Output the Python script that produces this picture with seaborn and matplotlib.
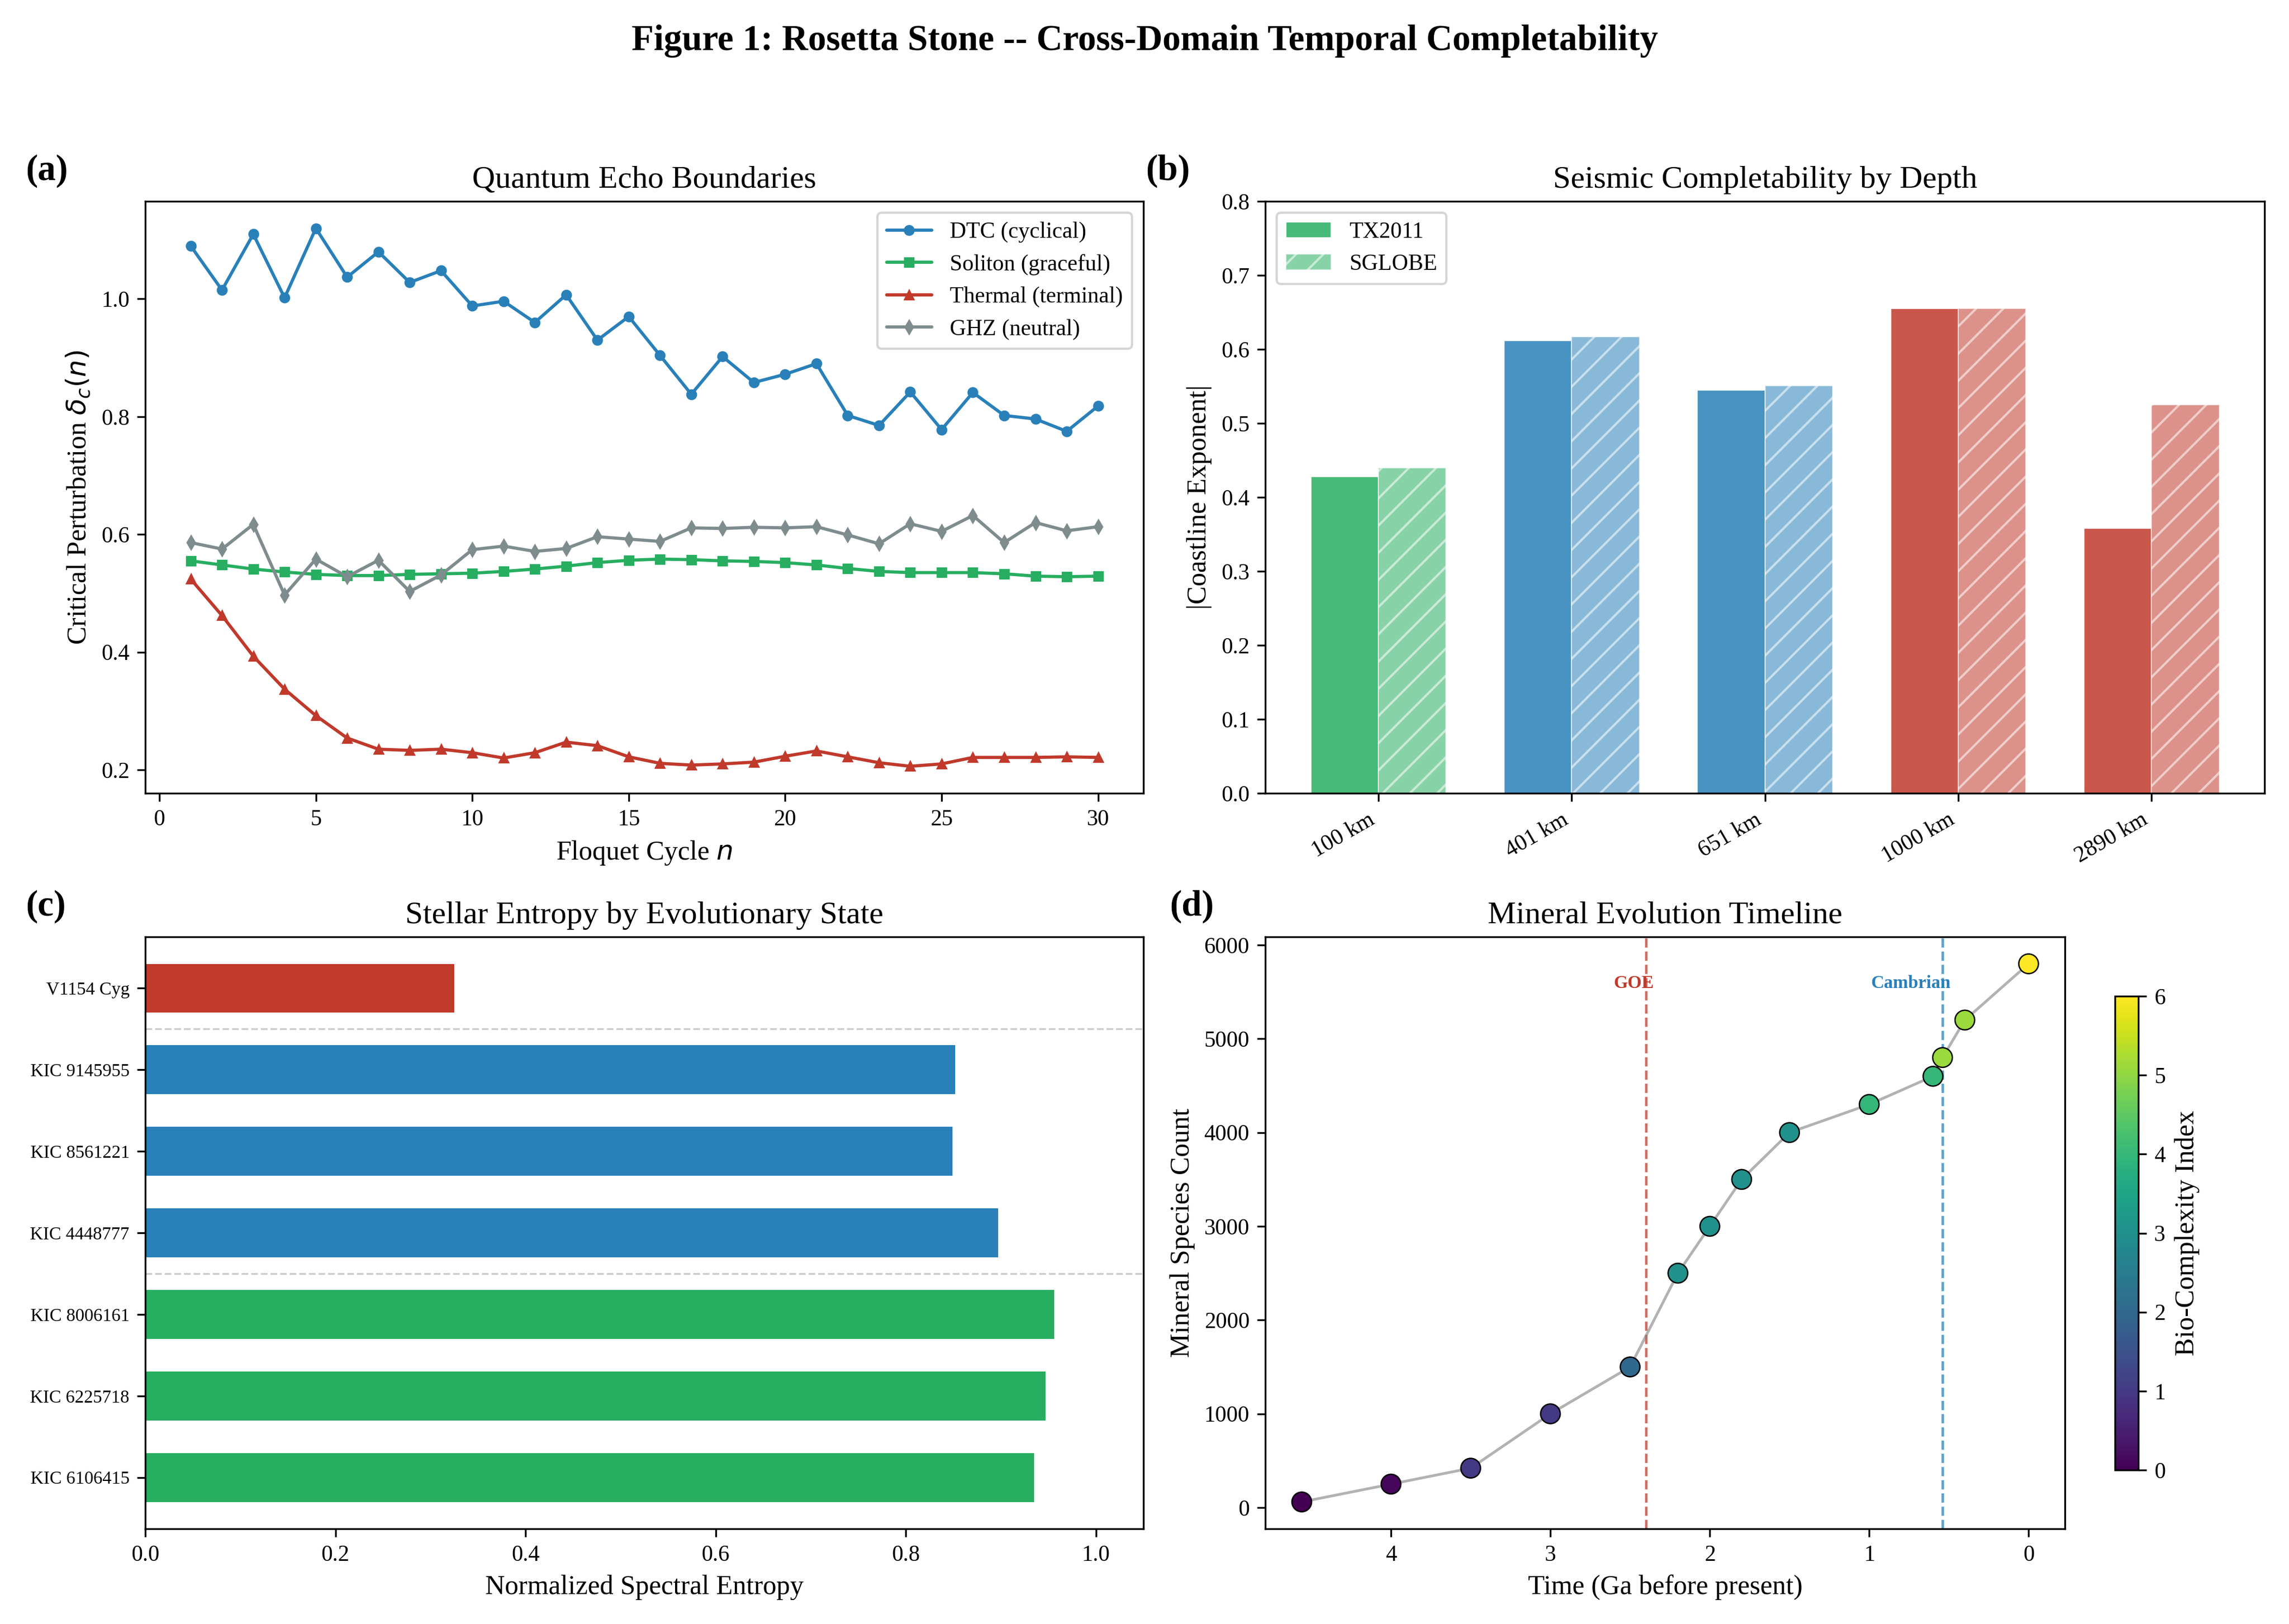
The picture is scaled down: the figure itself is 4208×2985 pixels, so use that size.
import numpy as np
import pandas as pd
import matplotlib
matplotlib.use("Agg")
import matplotlib.pyplot as plt
import seaborn as sns
from matplotlib.colors import Normalize
from matplotlib.cm import ScalarMappable

# ---------------- data ----------------
cycles = list(range(1, 31))
dtc = [1.090, 1.015, 1.110, 1.002, 1.120, 1.037, 1.080, 1.028, 1.048, 0.988,
       0.996, 0.960, 1.007, 0.930, 0.970, 0.904, 0.838, 0.902, 0.858, 0.872,
       0.890, 0.802, 0.785, 0.842, 0.778, 0.841, 0.802, 0.796, 0.775, 0.818]
soliton = [0.555, 0.548, 0.541, 0.536, 0.532, 0.530, 0.530, 0.532, 0.533, 0.534,
           0.537, 0.541, 0.546, 0.552, 0.556, 0.558, 0.557, 0.555, 0.554, 0.552,
           0.548, 0.542, 0.537, 0.535, 0.535, 0.535, 0.533, 0.529, 0.528, 0.529]
thermal = [0.524, 0.462, 0.393, 0.337, 0.292, 0.254, 0.235, 0.233, 0.235, 0.229,
           0.220, 0.229, 0.247, 0.241, 0.222, 0.211, 0.208, 0.210, 0.213, 0.223,
           0.232, 0.222, 0.212, 0.206, 0.210, 0.221, 0.221, 0.221, 0.222, 0.221]
ghz = [0.586, 0.575, 0.617, 0.497, 0.558, 0.528, 0.556, 0.503, 0.531, 0.574,
       0.580, 0.571, 0.576, 0.596, 0.592, 0.588, 0.611, 0.610, 0.612, 0.611,
       0.613, 0.599, 0.584, 0.618, 0.605, 0.632, 0.586, 0.620, 0.606, 0.613]
series_names = ["DTC (cyclical)", "Soliton (graceful)", "Thermal (terminal)", "GHZ (neutral)"]

depths = ["100 km", "401 km", "651 km", "1000 km", "2890 km"]
tx2011 = [0.428, 0.612, 0.545, 0.655, 0.358]
sglobe = [0.440, 0.617, 0.551, 0.655, 0.525]
depth_groups = ["green", "blue", "blue", "red", "red"]

stars = ["V1154 Cyg", "KIC 9145955", "KIC 8561221", "KIC 4448777",
         "KIC 8006161", "KIC 6225718", "KIC 6106415"]
entropy = [0.325, 0.852, 0.849, 0.897, 0.956, 0.947, 0.935]
star_groups = ["red", "blue", "blue", "blue", "green", "green", "green"]

time_ga = [4.56, 4.0, 3.5, 3.0, 2.5, 2.2, 2.0, 1.8, 1.5, 1.0, 0.6, 0.54, 0.4, 0.0]
mineral_count = [60, 250, 420, 1000, 1500, 2500, 3000, 3500, 4000, 4300, 4600, 4800, 5200, 5800]
bio_index = [0.0, 0.1, 1.0, 1.0, 2.0, 3.0, 3.0, 3.0, 3.0, 4.0, 4.0, 5.1, 5.1, 6.0]
events = ["GOE", "Cambrian"]
event_times = [2.4, 0.54]

# ---------------- style ----------------
sns.set_style("white")
plt.rcParams["font.family"] = ["Liberation Serif", "DejaVu Serif"]
plt.rcParams["mathtext.fontset"] = "dejavusans"
plt.rcParams["axes.edgecolor"] = "black"
plt.rcParams["axes.linewidth"] = 0.8
plt.rcParams["xtick.bottom"] = True
plt.rcParams["ytick.left"] = True
plt.rcParams["xtick.color"] = "black"
plt.rcParams["ytick.color"] = "black"
plt.rcParams["xtick.labelsize"] = 10
plt.rcParams["ytick.labelsize"] = 10
plt.rcParams["axes.labelcolor"] = "black"
plt.rcParams["text.color"] = "black"

RED = "#c0392b"
BLUE = "#2980b9"
GREEN = "#27ae60"
GRAY = "#7f8c8d"
cmap_group = {"red": RED, "blue": BLUE, "green": GREEN}

fig = plt.figure(figsize=(14.027, 9.95), dpi=300)
ax_a = fig.add_axes([0.0635, 0.5116, 0.436, 0.3644])
ax_b = fig.add_axes([0.5528, 0.5116, 0.4365, 0.3644])
ax_c = fig.add_axes([0.0635, 0.0586, 0.436, 0.3645])
ax_d = fig.add_axes([0.5528, 0.0586, 0.3493, 0.3645])
cax = fig.add_axes([0.924, 0.0948, 0.0102, 0.2918])

TITLE_FS = 14
LABEL_FS = 12

# ---------------- (a) ----------------
for name, vals, col, mk in zip(series_names, [dtc, soliton, thermal, ghz],
                               [BLUE, GREEN, RED, GRAY], ["o", "s", "^", "d"]):
    sns.lineplot(x=cycles, y=vals, ax=ax_a, color=col, marker=mk, markersize=4,
                 markeredgecolor=col, markeredgewidth=0.8, linewidth=1.4, label=name)
ax_a.set_title("Quantum Echo Boundaries", fontsize=TITLE_FS)
ax_a.set_xlabel("Floquet Cycle $n$", fontsize=LABEL_FS)
ax_a.set_ylabel(r"Critical Perturbation $\delta_c(n)$", fontsize=LABEL_FS)
ax_a.set_xticks([0, 5, 10, 15, 20, 25, 30])
ax_a.set_yticks([0.2, 0.4, 0.6, 0.8, 1.0])
ax_a.legend(loc="upper right", fontsize=10, frameon=True, fancybox=True, framealpha=0.8,
            edgecolor="#cccccc")

# ---------------- (b) ----------------
df_b = pd.DataFrame({
    "depth": depths * 2,
    "value": tx2011 + sglobe,
    "model": ["TX2011"] * len(depths) + ["SGLOBE"] * len(depths),
})
sns.barplot(data=df_b, x="depth", y="value", hue="model", width=0.7, ax=ax_b,
            errorbar=None, legend=False, order=depths, hue_order=["TX2011", "SGLOBE"])
bars = ax_b.patches
n = len(depths)
for i, p in enumerate(bars[:2 * n]):
    model_i, j = divmod(i, n)
    col = cmap_group[depth_groups[j]]
    p.set_facecolor(col)
    if model_i == 0:
        p.set_alpha(0.85)
        p.set_hatch("")
    else:
        p.set_alpha(0.55)
        p.set_hatch("//")
    p.set_edgecolor("white")
    p.set_linewidth(0.5)
ax_b.set_xlim(-0.585, n - 1 + 0.585)
ax_b.set_ylim(0, 0.8)
ax_b.set_title("Seismic Completability by Depth", fontsize=TITLE_FS)
ax_b.set_xlabel("")
ax_b.set_ylabel("|Coastline Exponent|", fontsize=LABEL_FS)
ax_b.set_xticks(range(n))
ax_b.set_xticklabels(depths, rotation=30, ha="right")
ax_b.legend(handles=[bars[0], bars[n]], labels=["TX2011", "SGLOBE"], loc="upper left",
            fontsize=10, frameon=True, framealpha=0.8, edgecolor="#cccccc")

# ---------------- (c) ----------------
df_c = pd.DataFrame({"star": stars, "entropy": entropy, "group": star_groups})
sns.barplot(data=df_c, y="star", x="entropy", hue="star", orient="h", width=0.6,
            palette=[cmap_group[g] for g in star_groups], ax=ax_c, errorbar=None,
            legend=False, order=stars, hue_order=stars, saturation=1)
for p in ax_c.patches:
    p.set_linewidth(0)
for k in range(1, len(star_groups)):
    if star_groups[k] != star_groups[k - 1]:
        ax_c.axhline(k - 0.5, color="gray", linestyle="--", linewidth=0.8, alpha=0.4)
ax_c.set_ylim(len(stars) - 1 + 0.63, -0.63)
ax_c.set_xlim(0, 1.05)
ax_c.set_title("Stellar Entropy by Evolutionary State", fontsize=TITLE_FS)
ax_c.set_xlabel("Normalized Spectral Entropy", fontsize=LABEL_FS)
ax_c.set_ylabel("")
ax_c.tick_params(axis="y", labelsize=8)

# ---------------- (d) ----------------
norm = Normalize(vmin=0, vmax=6)
sns.lineplot(x=time_ga, y=mineral_count, ax=ax_d, color="gray", alpha=0.6,
             linewidth=1.2, zorder=1, sort=False)
sns.scatterplot(x=time_ga, y=mineral_count, hue=bio_index, palette="viridis",
                hue_norm=norm, s=75, edgecolor="black", linewidth=0.6, ax=ax_d,
                legend=False, zorder=3)
for ev, t, col in zip(events, event_times, [RED, BLUE]):
    ax_d.axvline(t, color=col, linestyle="--", linewidth=1.1, alpha=0.75, zorder=0)
    ax_d.text(t - 0.05, 5500, ev, color=col, fontsize=8, fontweight="bold",
              ha="right", va="bottom")
ax_d.invert_xaxis()
ax_d.set_xticks([4, 3, 2, 1, 0])
ax_d.set_title("Mineral Evolution Timeline", fontsize=TITLE_FS)
ax_d.set_xlabel("Time (Ga before present)", fontsize=LABEL_FS)
ax_d.set_ylabel("Mineral Species Count", fontsize=LABEL_FS)
sm = ScalarMappable(norm=norm, cmap="viridis")
cb = fig.colorbar(sm, cax=cax)
cb.set_label("Bio-Complexity Index", fontsize=LABEL_FS)
cb.outline.set_linewidth(0.8)

# ---------------- panel letters ----------------
for ax, lab in zip([ax_a, ax_b, ax_c, ax_d], ["(a)", "(b)", "(c)", "(d)"]):
    ax.text(-0.12, 1.08, lab, transform=ax.transAxes, fontsize=16,
            fontweight="bold", va="top", ha="left")
    for s in ax.spines.values():
        s.set_visible(True)
        s.set_color("black")
        s.set_linewidth(0.8)

fig.suptitle("Figure 1: Rosetta Stone -- Cross-Domain Temporal Completability",
             fontsize=16, fontweight="bold", y=0.985)

fig.savefig("out.png", dpi=300)
